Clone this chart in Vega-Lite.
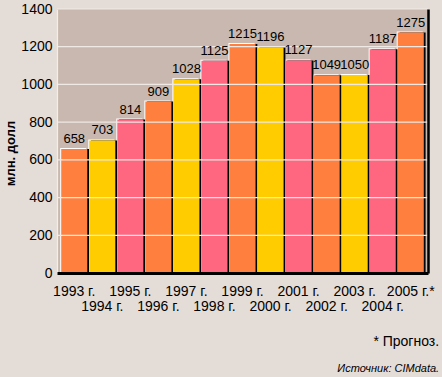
{
  "$schema": "https://vega.github.io/schema/vega-lite/v6.json",
  "width": 371,
  "height": 264,
  "autosize": {"type": "none"},
  "padding": {"left": 57, "top": 9, "right": 14, "bottom": 104},
  "background": "#E4DCD7",
  "config": {
    "font": "Liberation Sans",
    "view": {"fill": "#C9B8AF", "stroke": null}
  },
  "title": {
    "text": "* Прогноз.",
    "subtitle": "Источник: CIMdata.",
    "orient": "bottom",
    "anchor": "end",
    "dx": 5,
    "offset": 22,
    "fontSize": 14,
    "fontWeight": "normal",
    "color": "#000",
    "subtitleFontSize": 11,
    "subtitleFontStyle": "italic",
    "subtitleColor": "#000",
    "subtitlePadding": 14
  },
  "datasets": {
    "sales": [
      {"year": "1993 г.", "value": 658},
      {"year": "1994 г.", "value": 703},
      {"year": "1995 г.", "value": 814},
      {"year": "1996 г.", "value": 909},
      {"year": "1997 г.", "value": 1028},
      {"year": "1998 г.", "value": 1125},
      {"year": "1999 г.", "value": 1215},
      {"year": "2000 г.", "value": 1196},
      {"year": "2001 г.", "value": 1127},
      {"year": "2002 г.", "value": 1049},
      {"year": "2003 г.", "value": 1050},
      {"year": "2004 г.", "value": 1187},
      {"year": "2005 г.*", "value": 1275}
    ],
    "grid": [
      {"g": 200}, {"g": 400}, {"g": 600}, {"g": 800},
      {"g": 1000}, {"g": 1200}, {"g": 1400}
    ]
  },
  "resolve": {"axis": {"y": "independent"}},
  "layer": [
    {
      "data": {"name": "sales"},
      "mark": {"type": "bar", "color": "#FFFFFF", "xOffset": -1, "yOffset": -1},
      "encoding": {
        "x": {
          "field": "year",
          "type": "nominal",
          "sort": null,
          "scale": {"paddingInner": 0.07, "paddingOuter": 0.15},
          "axis": {
            "title": null,
            "labelAngle": 0,
            "labelExpr": "parseInt(datum.value) % 2 == 0 ? ['', datum.label] : datum.label",
            "labelLineHeight": 15,
            "labelPadding": 11,
            "labelFontSize": 14,
            "labelColor": "#000",
            "labelOverlap": false,
            "ticks": false,
            "domainColor": "#000",
            "domainWidth": 3,
            "zindex": 2
          }
        },
        "y": {
          "field": "value",
          "type": "quantitative",
          "scale": {"domain": [0, 1400]},
          "axis": {
            "values": [0, 200, 400, 600, 800, 1000, 1200, 1400],
            "format": "d",
            "title": "млн. долл",
            "titleFontSize": 13,
            "titleFontWeight": "bold",
            "titleColor": "#000",
            "titlePadding": 3,
            "titleY": 144,
            "labelFontSize": 14,
            "labelColor": "#000",
            "labelPadding": 5,
            "ticks": false,
            "grid": false,
            "domainColor": "#F4EEEA",
            "domainWidth": 1.2,
            "zindex": 1
          }
        }
      }
    },
    {
      "data": {"name": "sales"},
      "mark": {"type": "bar", "color": "#000000", "xOffset": 1.8},
      "encoding": {
        "x": {"field": "year", "type": "nominal", "sort": null},
        "y": {"field": "value", "type": "quantitative", "axis": null}
      }
    },
    {
      "data": {"name": "sales"},
      "mark": {"type": "bar"},
      "encoding": {
        "x": {"field": "year", "type": "nominal", "sort": null},
        "y": {"field": "value", "type": "quantitative", "axis": null},
        "color": {
          "condition": [
            {"test": "parseInt(datum.year) % 3 == 1", "value": "#FF7F3F"},
            {"test": "parseInt(datum.year) % 3 == 2", "value": "#FFCC00"}
          ],
          "value": "#FF6680"
        }
      }
    },
    {
      "data": {"name": "grid"},
      "mark": {"type": "rule", "color": "#EFE9E5", "strokeWidth": 1.2},
      "encoding": {
        "y": {"field": "g", "type": "quantitative", "axis": null}
      }
    },
    {
      "data": {"name": "sales"},
      "mark": {"type": "text", "baseline": "bottom", "dy": -3, "fontSize": 13, "color": "#000"},
      "encoding": {
        "x": {"field": "year", "type": "nominal", "sort": null},
        "y": {
          "field": "value",
          "type": "quantitative",
          "axis": {
            "orient": "right",
            "labels": false,
            "ticks": false,
            "grid": false,
            "title": null,
            "domainColor": "#000",
            "domainWidth": 2.5,
            "zindex": 2
          }
        },
        "text": {"field": "value", "type": "quantitative", "format": "d"}
      }
    }
  ]
}
